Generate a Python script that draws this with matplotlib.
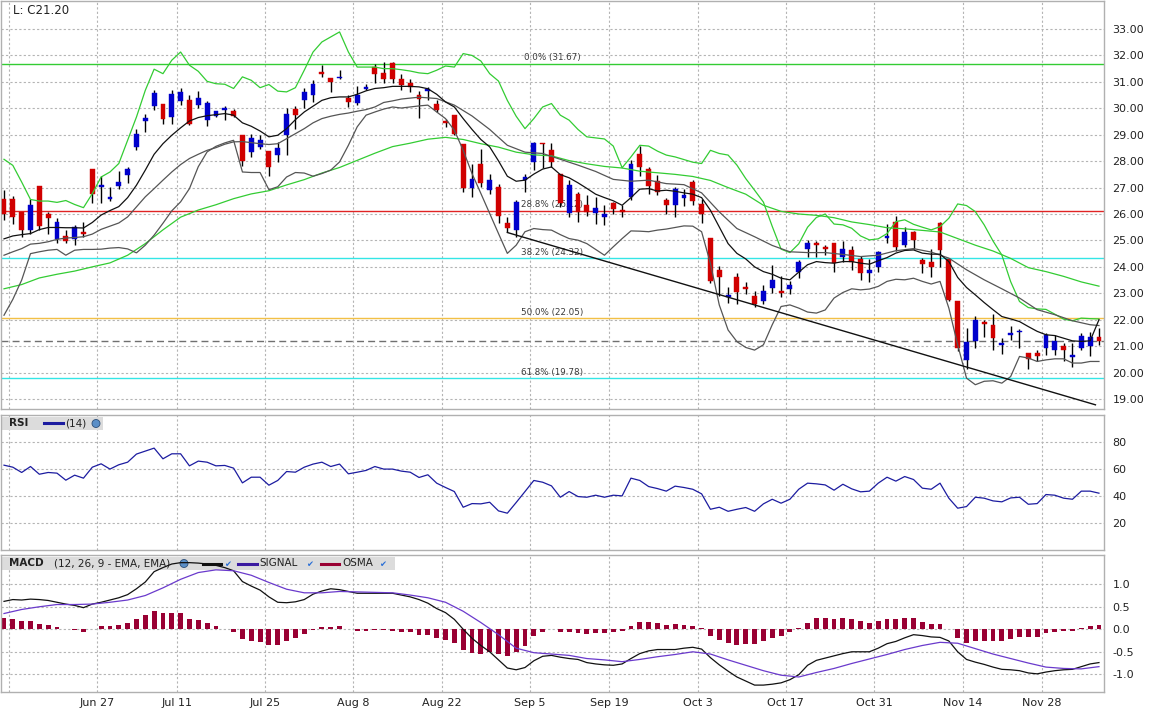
import numpy as np
import matplotlib
matplotlib.use('Agg')
import matplotlib.pyplot as plt
from matplotlib.patches import Rectangle, Ellipse
from matplotlib.lines import Line2D

plt.rcParams['font.family'] = ['DejaVu Sans']

W, H = 1150, 717

# daily candles, Jun 10 .. Dec 6
opens = [26.55, 26.58, 26.08, 25.39, 27.05, 25.99, 25.05, 25.16, 25.05, 25.31,
         27.69, 27.03, 26.56, 27.05, 27.48, 28.54, 29.52, 30.08, 30.15, 29.67,
         30.28, 30.30, 30.12, 29.55, 29.71, 29.95, 29.89, 28.98, 28.35, 28.54,
         28.37, 28.25, 29.00, 29.97, 30.33, 30.52, 31.37, 31.13, 31.15, 30.40,
         30.20, 30.74, 31.56, 31.34, 31.72, 31.09, 30.94, 30.49, 30.66, 30.15,
         29.52, 29.74, 28.64, 26.99, 27.90, 26.90, 27.03, 25.65, 25.39, 27.28,
         27.95, 28.69, 28.44, 27.50, 26.02, 26.75, 26.35, 26.02, 25.90, 26.43,
         26.17, 26.65, 28.26, 27.70, 27.24, 26.52, 26.33, 26.61, 27.21, 26.37,
         25.11, 23.88, 22.87, 23.60, 23.22, 22.90, 22.69, 23.20, 23.10, 23.16,
         23.80, 24.66, 24.90, 24.74, 24.90, 24.38, 24.63, 24.31, 23.75, 24.00,
         25.08, 25.71, 24.84, 25.32, 24.25, 24.18, 25.65, 24.31, 22.70, 20.49,
         21.21, 21.90, 21.79, 21.04, 21.43, 21.52, 20.74, 20.74, 20.92, 20.87,
         21.00, 20.59, 20.92, 21.00, 21.33]
highs = [26.92, 26.67, 26.08, 26.55, 27.05, 26.08, 25.84, 25.39, 25.58, 25.69,
         27.69, 27.43, 27.03, 27.62, 27.78, 29.22, 29.80, 30.68, 30.15, 30.68,
         30.76, 30.49, 30.65, 30.26, 29.90, 30.07, 29.99, 28.98, 29.04, 28.98,
         28.37, 28.73, 30.03, 30.10, 30.78, 31.06, 31.62, 31.13, 31.44, 30.49,
         30.83, 30.93, 31.66, 31.76, 31.75, 31.29, 31.09, 30.66, 30.81, 30.30,
         29.60, 29.74, 28.64, 27.88, 28.45, 27.53, 27.13, 25.89, 26.52, 27.50,
         28.73, 28.69, 28.69, 27.50, 27.30, 26.84, 26.71, 26.65, 26.33, 26.46,
         26.33, 28.04, 28.58, 27.78, 27.47, 26.61, 27.03, 26.96, 27.28, 26.55,
         25.11, 24.03, 23.22, 23.75, 23.44, 23.10, 23.32, 24.08, 23.64, 23.45,
         24.25, 25.00, 24.98, 24.81, 24.90, 24.97, 24.78, 24.40, 24.31, 24.61,
         25.62, 25.94, 25.51, 25.36, 24.34, 24.69, 25.71, 24.31, 22.70, 21.70,
         22.13, 22.00, 22.23, 21.31, 21.75, 21.64, 20.74, 20.87, 21.48, 21.41,
         21.10, 21.13, 21.50, 21.53, 21.69]
lows = [25.77, 25.64, 25.13, 25.24, 25.41, 25.24, 24.91, 24.91, 24.82, 25.13,
        26.40, 26.43, 26.50, 26.94, 27.18, 28.41, 29.10, 29.93, 29.40, 29.40,
        30.12, 29.35, 30.03, 29.32, 29.67, 29.57, 29.67, 27.82, 28.16, 28.46,
        27.44, 27.97, 28.22, 29.23, 30.01, 30.24, 31.18, 30.60, 31.10, 30.05,
        30.14, 30.68, 30.96, 30.96, 30.94, 30.71, 30.62, 29.65, 30.30, 29.86,
        29.30, 28.98, 26.84, 26.65, 27.03, 26.75, 25.67, 25.33, 25.14, 26.84,
        27.66, 27.75, 27.78, 26.27, 25.87, 25.70, 25.92, 25.64, 25.60, 26.00,
        25.87, 26.52, 27.43, 26.75, 26.71, 26.00, 25.87, 26.31, 26.33, 25.67,
        23.40, 22.90, 22.62, 22.59, 22.97, 22.48, 22.59, 23.01, 22.87, 22.97,
        23.56, 24.36, 24.36, 24.45, 23.80, 24.19, 23.90, 23.52, 23.43, 23.81,
        24.89, 24.60, 24.74, 24.69, 23.77, 23.60, 23.99, 22.70, 20.81, 20.15,
        20.94, 21.33, 20.87, 20.72, 21.23, 20.94, 20.13, 20.43, 20.67, 20.67,
        20.43, 20.21, 20.87, 20.62, 21.05]
closes = [25.99, 25.89, 25.39, 26.33, 25.54, 25.85, 25.69, 24.98, 25.49, 25.24,
          26.75, 27.09, 26.63, 27.20, 27.69, 29.04, 29.64, 30.56, 29.60, 30.53,
          30.60, 29.42, 30.40, 30.21, 29.89, 30.01, 29.71, 27.99, 28.88, 28.79,
          27.78, 28.50, 29.80, 29.76, 30.62, 30.93, 31.31, 31.00, 31.20, 30.24,
          30.49, 30.80, 31.31, 31.09, 31.09, 30.87, 30.81, 30.37, 30.74, 29.95,
          29.45, 29.04, 26.99, 27.32, 27.18, 27.28, 25.93, 25.48, 26.46, 27.40,
          28.69, 28.63, 27.98, 26.40, 27.09, 26.08, 26.08, 26.21, 26.00, 26.20,
          26.08, 27.88, 27.78, 27.07, 26.84, 26.35, 26.94, 26.71, 26.48, 26.00,
          23.47, 23.63, 22.93, 23.06, 23.15, 22.60, 23.07, 23.49, 23.00, 23.32,
          24.17, 24.90, 24.84, 24.68, 24.16, 24.69, 24.19, 23.77, 23.87, 24.57,
          25.18, 24.77, 25.32, 25.03, 24.11, 23.99, 24.62, 22.76, 20.94, 21.15,
          22.00, 21.84, 21.31, 21.10, 21.50, 21.58, 20.53, 20.62, 21.43, 21.21,
          20.87, 20.66, 21.37, 21.33, 21.20]

# overlays on the price panel
band_upper = [28.07, 27.84, 27.21, 26.55, 26.49, 26.49, 26.44, 26.51, 26.36, 26.24,
              26.77, 27.40, 27.59, 27.91, 28.79, 29.67, 30.68, 31.48, 31.31, 31.82,
              32.13, 31.63, 31.40, 31.02, 30.93, 30.91, 30.75, 31.19, 31.06, 30.78,
              30.90, 30.65, 30.62, 30.78, 31.44, 32.13, 32.51, 32.70, 32.89, 32.13,
              31.56, 31.56, 31.56, 31.50, 31.50, 31.46, 31.41, 31.34, 31.31, 31.44,
              31.60, 31.56, 32.07, 32.00, 31.79, 31.31, 31.03, 30.30, 29.70, 29.23,
              29.61, 30.05, 30.18, 29.74, 29.55, 29.20, 28.92, 28.88, 28.84, 28.57,
              27.75, 28.16, 28.60, 28.57, 28.38, 28.23, 28.16, 28.06, 27.96, 27.91,
              28.41, 28.29, 28.23, 27.85, 27.34, 26.90, 26.45, 25.53, 24.67, 24.54,
              24.87, 25.50, 25.87, 26.00, 25.62, 25.59, 25.46, 25.17, 25.02, 25.06,
              25.26, 25.71, 25.78, 25.61, 25.50, 25.40, 25.52, 25.84, 26.38, 26.32,
              26.09, 25.59, 24.98, 24.45, 23.44, 22.69, 22.46, 22.41, 22.39, 22.21,
              22.02, 21.96, 22.06, 22.04, 22.03]
ma_short = [25.06, 25.17, 25.22, 25.26, 25.41, 25.49, 25.49, 25.48, 25.48, 25.47,
            25.68, 25.96, 26.13, 26.28, 26.62, 27.09, 27.66, 28.26, 28.66, 28.98,
            29.26, 29.52, 29.65, 29.72, 29.76, 29.80, 29.74, 29.45, 29.32, 29.14,
            28.92, 28.98, 29.23, 29.57, 29.86, 30.08, 30.30, 30.40, 30.43, 30.43,
            30.53, 30.66, 30.75, 30.78, 30.83, 30.83, 30.83, 30.81, 30.74, 30.53,
            30.24, 30.05, 29.61, 29.20, 28.82, 28.54, 28.01, 27.43, 27.24, 27.28,
            27.51, 27.70, 27.78, 27.49, 27.37, 27.18, 26.97, 26.75, 26.62, 26.50,
            26.33, 26.62, 26.94, 26.96, 26.87, 26.90, 26.86, 26.80, 26.75, 26.62,
            26.14, 25.51, 24.88, 24.51, 24.30, 24.00, 23.82, 23.72, 23.57, 23.51,
            23.80, 24.08, 24.20, 24.16, 24.14, 24.20, 24.20, 24.14, 24.10, 24.23,
            24.35, 24.52, 24.62, 24.64, 24.52, 24.48, 24.48, 24.20, 23.60, 23.22,
            22.94, 22.65, 22.38, 22.12, 22.03, 21.93, 21.74, 21.56, 21.43, 21.40,
            21.30, 21.20, 21.18, 21.20, 22.00]
band_lower = [22.17, 22.77, 23.50, 24.50, 24.57, 24.63, 24.66, 24.44, 24.63, 24.66,
              24.66, 24.67, 24.71, 24.73, 24.68, 24.53, 24.82, 25.20, 25.65, 26.12,
              26.46, 26.96, 27.79, 28.35, 28.56, 28.69, 28.79, 27.59, 27.57, 27.57,
              26.92, 27.03, 27.40, 27.57, 27.55, 27.43, 27.53, 27.66, 27.97, 28.60,
              29.30, 29.74, 29.86, 29.97, 30.05, 30.01, 30.05, 30.09, 30.12, 29.86,
              29.61, 29.17, 28.41, 27.53, 26.78, 26.02, 25.26, 24.51, 24.82, 25.33,
              25.45, 25.41, 25.39, 25.22, 25.07, 25.01, 24.88, 24.66, 24.44, 24.76,
              25.07, 25.36, 25.35, 25.33, 25.39, 25.43, 25.49, 25.55, 25.54, 25.33,
              24.13, 22.56, 21.61, 21.17, 20.95, 20.85, 21.05, 21.81, 22.50, 22.56,
              22.44, 22.29, 22.25, 22.37, 22.82, 23.03, 23.17, 23.13, 23.16, 23.26,
              23.45, 23.53, 23.51, 23.57, 23.45, 23.35, 23.45, 22.44, 21.05, 19.79,
              19.54, 19.67, 19.69, 19.60, 19.85, 20.61, 20.55, 20.42, 20.48, 20.52,
              20.52, 20.36, 20.36, 20.42, 20.42]
ma_mid_x = list(range(0, 45)) + list(range(45, 124, 2)) + [124]
ma_mid = [24.44, 24.57, 24.69, 24.86, 24.89, 24.95, 25.04, 25.09, 25.11, 25.14,
          25.24, 25.42, 25.54, 25.66, 25.89, 26.27, 26.65, 26.96, 27.28, 27.59,
          27.87, 28.10, 28.26, 28.41, 28.51, 28.64, 28.73, 28.74, 28.70, 28.66,
          28.63, 28.66, 28.85, 29.04, 29.23, 29.45, 29.61, 29.70, 29.77, 29.82,
          29.89, 29.95, 30.05, 30.22, 30.28,
          30.35, 30.42, 30.37, 30.12, 29.71, 29.20, 28.60, 28.34, 28.29, 28.07,
          27.85, 27.61, 27.31, 27.24, 27.28, 27.15, 27.11, 26.80, 26.08, 25.45,
          25.14, 24.81, 24.57, 24.54, 24.54, 24.47, 24.39, 24.44, 24.61, 24.69,
          24.56, 24.33, 23.89, 23.51, 23.17, 22.82, 22.38, 22.19, 21.96, 21.81,
          21.78]
ma_long_x = list(range(0, 125, 2))
ma_long = [23.17, 23.33, 23.58, 23.72, 23.84, 24.00, 24.15, 24.44, 24.88, 25.40,
           25.88, 26.15, 26.35, 26.58, 26.76, 26.88, 27.10, 27.30, 27.55, 27.76,
           28.03, 28.30, 28.55, 28.68, 28.83, 28.90, 28.82, 28.66, 28.53, 28.34,
           28.24, 28.20, 28.02, 27.90, 27.80, 27.74, 27.62, 27.56, 27.50, 27.42,
           27.27, 27.00, 26.75, 26.33, 26.10, 26.00, 25.95, 25.86, 25.70, 25.60,
           25.48, 25.44, 25.38, 25.32, 25.07, 24.82, 24.60, 24.32, 23.97, 23.82,
           23.64, 23.43, 23.27]
trend_x = [57, 123.6]
trend_y = [25.30, 18.78]

fib_pct = ['0.0%', '28.8%', '38.2%', '50.0%', '61.8%']
fib_val = [31.67, 26.12, 24.32, 22.05, 19.78]
fib_col = ['#33cc33', '#e02424', '#33e6e6', '#f2c046', '#33e6e6']
last_close = 21.20

rsi = [62.7, 61.2, 57.3, 61.7, 56.0, 57.3, 56.8, 51.6, 55.3, 53.1,
       61.2, 63.7, 59.8, 63.0, 64.9, 70.9, 73.1, 75.3, 67.4, 71.1,
       71.1, 62.2, 65.7, 64.9, 62.2, 62.5, 60.5, 49.6, 53.8, 53.8,
       47.9, 51.4, 58.0, 57.5, 61.2, 63.5, 64.9, 61.7, 63.5, 56.3,
       57.5, 58.8, 61.7, 59.8, 59.8, 58.3, 57.5, 53.6, 55.6, 49.4,
       46.2, 43.2, 31.6, 34.3, 34.1, 35.3, 28.9, 27.2, 35.1, 43.2,
       51.4, 50.1, 47.4, 39.0, 43.2, 39.5, 39.0, 40.5, 39.0, 40.5,
       40.0, 53.1, 51.4, 46.9, 45.4, 43.5, 47.2, 46.2, 44.9, 41.5,
       30.1, 31.6, 28.6, 30.1, 31.4, 28.6, 34.1, 37.5, 34.6, 37.5,
       44.9, 49.4, 48.9, 48.1, 44.2, 48.6, 45.2, 43.0, 43.5, 49.4,
       53.8, 50.9, 54.3, 52.1, 45.7, 44.9, 49.4, 38.3, 30.9, 32.1,
       39.0, 38.3, 36.3, 35.6, 38.5, 39.0, 33.8, 34.3, 41.0, 40.5,
       38.3, 37.5, 43.5, 43.5, 42.0]

macd = [0.62, 0.66, 0.65, 0.67, 0.66, 0.64, 0.60, 0.56, 0.53, 0.48,
        0.56, 0.60, 0.65, 0.70, 0.77, 0.90, 1.05, 1.28, 1.37, 1.45,
        1.48, 1.48, 1.47, 1.45, 1.42, 1.37, 1.30, 1.06, 0.96, 0.87,
        0.72, 0.60, 0.59, 0.61, 0.66, 0.78, 0.85, 0.90, 0.88, 0.84,
        0.80, 0.80, 0.80, 0.80, 0.80, 0.76, 0.72, 0.66, 0.58, 0.46,
        0.37, 0.22, 0.00, -0.20, -0.36, -0.50, -0.68, -0.86, -0.90, -0.85,
        -0.70, -0.60, -0.58, -0.62, -0.65, -0.67, -0.74, -0.77, -0.79, -0.80,
        -0.77, -0.65, -0.54, -0.48, -0.45, -0.45, -0.45, -0.42, -0.40, -0.44,
        -0.63, -0.79, -0.93, -1.06, -1.15, -1.24, -1.24, -1.22, -1.19, -1.12,
        -1.01, -0.80, -0.69, -0.64, -0.59, -0.54, -0.50, -0.50, -0.50, -0.42,
        -0.32, -0.27, -0.19, -0.12, -0.14, -0.17, -0.18, -0.26, -0.50, -0.67,
        -0.73, -0.78, -0.84, -0.89, -0.90, -0.92, -0.97, -0.99, -0.95, -0.92,
        -0.90, -0.89, -0.83, -0.77, -0.74]
signal_x = list(range(0, 125, 2))
signal = [0.35, 0.44, 0.50, 0.55, 0.55, 0.56, 0.60, 0.65, 0.75, 0.92,
          1.11, 1.26, 1.32, 1.30, 1.20, 1.04, 0.89, 0.81, 0.81, 0.84,
          0.83, 0.82, 0.81, 0.76, 0.70, 0.60, 0.40, 0.15, -0.12, -0.42,
          -0.52, -0.55, -0.58, -0.65, -0.68, -0.72, -0.67, -0.61, -0.56, -0.50,
          -0.55, -0.68, -0.80, -0.92, -1.02, -1.06, -0.96, -0.87, -0.76, -0.66,
          -0.56, -0.45, -0.36, -0.29, -0.31, -0.43, -0.55, -0.65, -0.75, -0.84,
          -0.87, -0.88, -0.83]
osma = [0.26, 0.23, 0.19, 0.19, 0.12, 0.09, 0.05, 0.015, -0.02, -0.07,
        0.0, 0.07, 0.07, 0.10, 0.15, 0.23, 0.32, 0.41, 0.37, 0.37,
        0.37, 0.23, 0.21, 0.15, 0.07, 0.0, -0.05, -0.21, -0.25, -0.28,
        -0.36, -0.36, -0.25, -0.19, -0.10, -0.02, 0.045, 0.045, 0.07, 0.0,
        -0.03, -0.03, -0.02, -0.015, -0.04, -0.05, -0.07, -0.13, -0.13, -0.19,
        -0.24, -0.30, -0.46, -0.52, -0.55, -0.50, -0.55, -0.59, -0.50, -0.37,
        -0.16, -0.05, 0.0, -0.05, -0.05, -0.09, -0.11, -0.09, -0.09, -0.07,
        -0.045, 0.07, 0.17, 0.17, 0.15, 0.10, 0.12, 0.10, 0.07, 0.03,
        -0.15, -0.24, -0.31, -0.35, -0.33, -0.33, -0.27, -0.20, -0.15, -0.07,
        0.02, 0.15, 0.24, 0.25, 0.23, 0.25, 0.23, 0.19, 0.15, 0.19,
        0.23, 0.23, 0.25, 0.25, 0.17, 0.12, 0.12, 0.0, -0.20, -0.30,
        -0.27, -0.25, -0.25, -0.25, -0.22, -0.18, -0.18, -0.18, -0.09, -0.06,
        -0.03, -0.04, 0.03, 0.07, 0.09]

date_idx = [1, 11, 20, 30, 40, 50, 60, 69, 79, 89, 99, 109, 118]
date_lbl = ['', 'Jun 27', 'Jul 11', 'Jul 25', 'Aug 8', 'Aug 22', 'Sep 5',
            'Sep 19', 'Oct 3', 'Oct 17', 'Oct 31', 'Nov 14', 'Nov 28']


def fx(x):
    return x / W


def fy(y):
    return 1 - y / H


fig = plt.figure(figsize=(W / 100, H / 100), dpi=100)
ax_p = fig.add_axes([fx(1), fy(409.3), fx(1103), (409.3 - 1) / H])
ax_r = fig.add_axes([fx(1), fy(550), fx(1103), (550 - 414.7) / H])
ax_m = fig.add_axes([fx(1), fy(692.3), fx(1103), (692.3 - 555) / H])

grid_x = [d - 0.45 for d in date_idx]
for ax in (ax_p, ax_r, ax_m):
    ax.set_xlim(-0.34, 124.57)
    ax.set_xticks(grid_x)
    ax.set_xticklabels([])
    ax.yaxis.tick_right()
    ax.tick_params(axis='both', length=0, labelsize=8, colors='#222222')
    ax.tick_params(axis='y', pad=6)
    ax.grid(True, color='#b4b4b4', linestyle=(0, (2, 2)), linewidth=0.8)
    ax.set_axisbelow(True)
    for s in ax.spines.values():
        s.set_color('#b0b0b0')
        s.set_linewidth(1.0)
ax_m.set_xticklabels(date_lbl)
ax_m.tick_params(axis='x', pad=4)

# price panel
x = np.arange(len(closes))
o = np.array(opens)
c = np.array(closes)
up = c >= o
cols = np.where(up, '#0000cc', '#d00000')
ax_p.set_ylim(18.61, 34.06)
ax_p.set_yticks(np.arange(19, 34, 1))
ax_p.set_yticklabels(['%.2f' % v for v in range(19, 34)])

for pct, val, col in zip(fib_pct, fib_val, fib_col):
    ax_p.axhline(val, color=col, lw=1.0, zorder=1)
    ax_p.text(62.1, val + 0.24, '%s (%.2f)' % (pct, val), fontsize=6.3,
              color='#3a3a3a', ha='center', va='center', zorder=3)
ax_p.axhline(last_close, color='#707070', lw=1.0, linestyle=(0, (5, 3)), zorder=1)

ax_p.plot(x, band_upper, color='#33cc33', lw=0.9, zorder=6)
ax_p.plot(ma_long_x, ma_long, color='#33cc33', lw=0.9, zorder=6)
ax_p.plot(ma_mid_x, ma_mid, color='#555555', lw=0.9, zorder=6)
ax_p.plot(x, band_lower, color='#555555', lw=0.9, zorder=6)
ax_p.plot(x, ma_short, color='#111111', lw=0.9, zorder=6)
ax_p.plot(trend_x, trend_y, color='#111111', lw=1.0, zorder=6)

ax_p.vlines(x, lows, highs, color='black', lw=1.0, zorder=4)
ax_p.bar(x, np.maximum(np.abs(c - o), 0.05), bottom=np.minimum(o, c), width=0.55,
         color=cols, edgecolor=cols, lw=0.3, zorder=5)

fig.text(fx(13), fy(10), 'L: C21.20', fontsize=8.5, color='#222222', va='center')

# RSI panel
ax_r.set_ylim(0, 100)
ax_r.set_yticks([20, 40, 60, 80])
ax_r.plot(x, rsi, color='#1c1ca0', lw=0.9)

# MACD panel
ax_m.set_ylim(-1.40, 1.65)
ax_m.set_yticks([-1.0, -0.5, 0.0, 0.5, 1.0])
ax_m.set_yticklabels(['-1.0', '-0.5', '0.0', '0.5', '1.0'])
ax_m.bar(x, osma, width=0.55, color='#990033', zorder=2)
ax_m.plot(x, macd, color='#111111', lw=0.9, zorder=3)
ax_m.plot(signal_x, signal, color='#6a3acc', lw=0.9, zorder=3)


# indicator headers
def box(ax, x0, x1, y0, y1):
    ax.add_patch(Rectangle((fx(x0), fy(y1)), fx(x1 - x0), (y1 - y0) / H,
                           transform=fig.transFigure, facecolor='#dcdcdc',
                           edgecolor='none', zorder=1, clip_on=False))


def label(ax, px, py, s, bold=False, size=7.5):
    ax.text(fx(px), fy(py), s, transform=fig.transFigure, fontsize=size,
            fontweight='bold' if bold else 'normal', color='#222222',
            va='center', ha='left', zorder=1.5)


def swatch(ax, x0, x1, py, col):
    ax.add_line(Line2D([fx(x0), fx(x1)], [fy(py), fy(py)], transform=fig.transFigure,
                       color=col, lw=2.2, zorder=1.5))


def globe(ax, px, py):
    ax.add_patch(Ellipse((fx(px), fy(py)), 8 / W, 8 / H, transform=fig.transFigure,
                         facecolor='#5b8fc7', edgecolor='#2d4f78', lw=0.6, zorder=1.5))


def check(ax, px, py):
    ax.text(fx(px), fy(py), '\u2714', transform=fig.transFigure, fontsize=6,
            color='#2a6fd6', ha='center', va='center', zorder=1.5)


box(ax_r, 2, 103, 417, 430)
label(ax_r, 9, 423.5, 'RSI', bold=True)
swatch(ax_r, 44, 63, 423.5, '#1c1ca0')
label(ax_r, 65, 423.5, '(14)')
globe(ax_r, 96, 423.5)

box(ax_m, 2, 395, 557, 570)
label(ax_m, 9, 563.5, 'MACD', bold=True)
label(ax_m, 54, 563.5, '(12, 26, 9 - EMA, EMA)')
globe(ax_m, 184, 563.5)
swatch(ax_m, 203, 221, 563.5, '#111111')
check(ax_m, 228, 564)
swatch(ax_m, 238, 257, 563.5, '#3a1aa0')
label(ax_m, 259, 563.5, 'SIGNAL')
check(ax_m, 310, 564)
swatch(ax_m, 321, 339, 563.5, '#990033')
label(ax_m, 342, 563.5, 'OSMA')
check(ax_m, 383, 564)

fig.savefig('out.png', dpi=100, facecolor='white')
